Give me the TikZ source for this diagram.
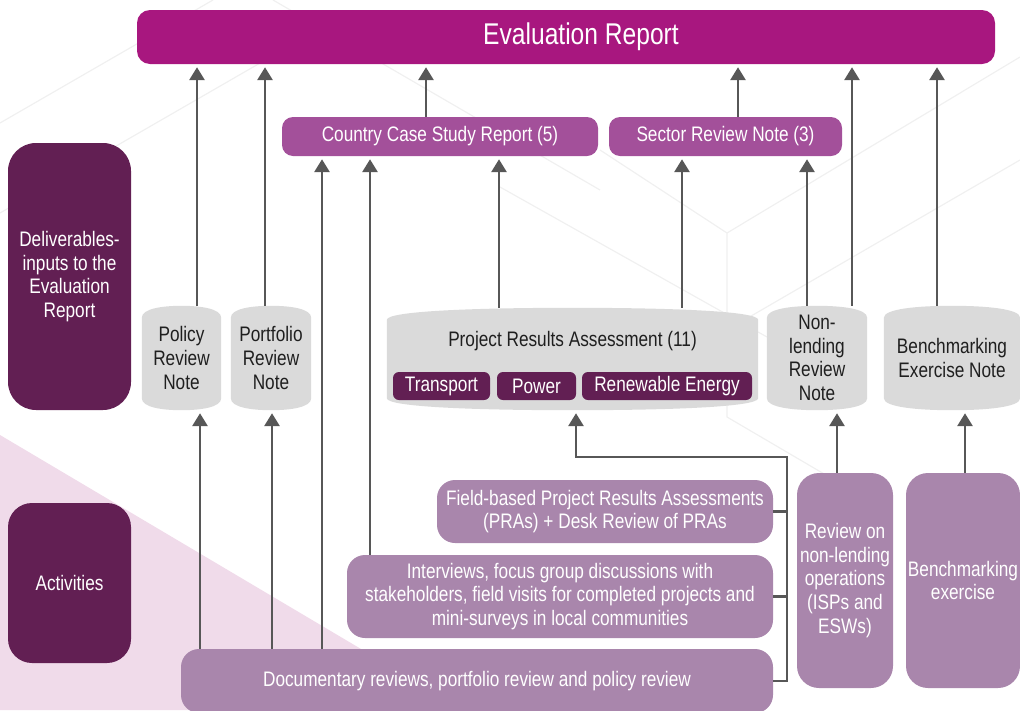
\documentclass[tikz,border=0pt]{standalone}
\usepackage{fontspec}
\setmainfont{Liberation Sans}[FakeStretch=0.82]
\usetikzlibrary{arrows.meta,calc}

\definecolor{evalmag}{HTML}{A8177F}
\definecolor{outpurple}{HTML}{A3509A}
\definecolor{plum}{HTML}{621F53}
\definecolor{notegray}{HTML}{DADADA}
\definecolor{lilac}{HTML}{A986AC}
\definecolor{linkgray}{HTML}{575757}
\definecolor{blush}{HTML}{F0DBEA}
\definecolor{hexgray}{HTML}{F0F0F0}

\pgfdeclarelayer{bg}
\pgfsetlayers{bg,main}

% grey note with bulged top and bottom, drawn round a named node
\newcommand\notebg[1]{%
  \fill[notegray] let \p1=(#1.north west), \p2=(#1.south east), \n1={0.25*(\x2-\x1)} in
    (\x1,\y1-12pt) .. controls (\x1,\y1-3pt) and ({\x1+\n1},\y1) .. ({0.5*(\x1+\x2)},\y1)
    .. controls ({\x2-\n1},\y1) and (\x2,\y1-3pt) .. (\x2,\y1-12pt)
    -- (\x2,\y2+12pt) .. controls (\x2,\y2+3pt) and ({\x2-\n1},\y2) .. ({0.5*(\x1+\x2)},\y2)
    .. controls ({\x1+\n1},\y2) and (\x1,\y2+3pt) .. (\x1,\y2+12pt) -- cycle;}

\begin{document}
\begin{tikzpicture}[x=1pt,y=-1pt,
  every node/.style={font=\fontsize{21}{23.6}\selectfont, align=center, inner sep=0pt},
  report/.style={fill=evalmag, text=white, rounded corners=13pt, font=\fontsize{30}{34}\selectfont},
  output/.style={fill=outpurple, text=white, rounded corners=11pt},
  side/.style={fill=plum, text=white, rounded corners=28pt},
  note/.style={text=black!88},
  sector/.style={fill=plum, text=white, rounded corners=6pt},
  task/.style={fill=lilac, text=white, rounded corners=18pt},
  link/.style={draw=linkgray, line width=2.9pt},
  arr/.style={link, -{Triangle[width=15pt,length=13pt]}, shorten >=3pt}]
  \useasboundingbox (0,0) rectangle (1020,710);
  \clip (0,0) rectangle (1020,710);

  % background
  \begin{pgfonlayer}{bg}
    \fill[blush] (0,435) -- (464,710) -- (0,710) -- cycle;
    \draw[hexgray, line width=1.2pt]
      (0,123) -- (213,0)  (0,213) -- (300,40)  (273,0) -- (600,190)
      (600,150) -- (727,233) -- (1020,57)  (727,233) -- (727,417) -- (860,495)
      (500,187) -- (767,337)  (727,330) -- (1020,160);
  \end{pgfonlayer}

  % deliverables
  \node[report, minimum width=858pt, minimum height=54pt] (eval) at (566,37) {\hspace*{30pt}Evaluation Report};
  \node[output, minimum width=316pt, minimum height=39pt] (country) at (440,136.5) {Country Case Study Report (5)};
  \node[output, minimum width=233pt, minimum height=39pt] (sector) at (725.5,136.5) {Sector Review Note (3)};
  \node[side, minimum width=123pt, minimum height=267pt] (deliv) at (69.5,276.5) {Deliverables-\\inputs to the\\Evaluation\\Report};
  \node[side, rounded corners=24pt, minimum width=123pt, minimum height=160pt] (activ) at (69.5,583) {Activities};

  \node[note, minimum width=79pt, minimum height=104pt] (policy) at (181.5,358) {Policy\\Review\\Note};
  \node[note, minimum width=80pt, minimum height=104pt] (portf) at (271,358) {Portfolio\\Review\\Note};
  \node[note, minimum width=371pt, minimum height=102pt] (pra) at (572.5,359) {};
  \node[note] (pratitle) at (572.5,341) {Project Results Assessment (11)};
  \node[sector, minimum width=97pt, minimum height=28pt] (transp) at (441.5,386) {Transport};
  \node[sector, minimum width=79pt, minimum height=28pt] (power) at (536.5,386) {Power};
  \node[sector, minimum width=170pt, minimum height=28pt] (renew) at (667,386) {Renewable Energy};
  \node[note, minimum width=100pt, minimum height=104pt] (nlnote) at (817,358) {Non-\\lending\\Review\\Note};
  \node[note, minimum width=136pt, minimum height=104pt] (bmnote) at (952,358) {Benchmarking\\Exercise Note};

  \begin{pgfonlayer}{bg}
    \foreach \k in {policy,portf,pra,nlnote,bmnote} \notebg{\k};
  \end{pgfonlayer}

  % activities
  \node[task, minimum width=336pt, minimum height=63pt] (field) at (605,511.5) {Field-based Project Results Assessments\\(PRAs) + Desk Review of PRAs};
  \node[task, minimum width=426pt, minimum height=83pt] (interv) at (560,596.5) {Interviews, focus group discussions with\\stakeholders, field visits for completed projects and\\mini-surveys in local communities};
  \node[task, minimum width=592pt, minimum height=64pt] (docrev) at (477,681) {Documentary reviews, portfolio review and policy review};
  \node[task, rounded corners=22pt, minimum width=96pt, minimum height=215pt] (revnl) at (845,580.5) {Review on\\non-lending\\operations\\(ISPs and\\ESWs)};
  \node[task, rounded corners=22pt, minimum width=114pt, minimum height=215pt] (bmex) at (963,580.5) {Benchmarking\\exercise};

  % connectors
  \foreach \x/\a/\b in {197/policy/eval, 265/portf/eval, 426/country/eval, 738/sector/eval,
      852/nlnote/eval, 937/bmnote/eval, 322/docrev/country, 370/interv/country,
      499/pra/country, 682/pra/sector, 807/nlnote/sector, 200/docrev/policy,
      272/docrev/portf, 837/revnl/nlnote, 965/bmex/bmnote} {
    \coordinate (col) at (\x,0);
    \draw[arr] (col |- \a.north) -- (col |- \b.south);
  }
  \coordinate (bus) at (787,457);
  \coordinate (praIn) at (576,0);
  \draw[link] (field.east) -- (field.east -| bus);
  \draw[link] (interv.east) -- (interv.east -| bus);
  \draw[arr] (docrev.east) -| (bus) -| (praIn |- pra.south);
\end{tikzpicture}
\end{document}
